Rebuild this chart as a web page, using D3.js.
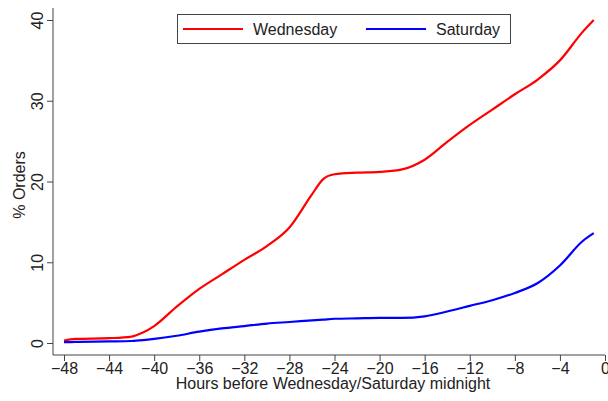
<!DOCTYPE html>
<html>
<head>
<meta charset="utf-8">
<script src="https://cdn.jsdelivr.net/npm/d3@7"></script>
<style>
  body { margin: 0; background: #fff; }
  text { font-family: "Liberation Sans", Arial, sans-serif; fill: #222; }
</style>
</head>
<body>
<div id="wrapper"></div>
<script>
// data
const hours = [-48, -47, -44, -42, -41, -40, -38, -36, -34, -32, -30, -28, -26, -25, -24, -22, -20, -18, -16, -14, -12, -10, -8, -6, -4, -2, -1]
const wednesday = [0.3, 0.5, 0.6, 0.8, 1.3, 2.1, 4.5, 6.7, 8.5, 10.3, 12.0, 14.3, 18.4, 20.3, 20.9, 21.1, 21.2, 21.5, 22.7, 24.9, 27.0, 28.9, 30.8, 32.6, 35.0, 38.5, 40.0]
const saturday = [0.1, 0.15, 0.2, 0.25, 0.35, 0.5, 0.9, 1.4, 1.8, 2.1, 2.4, 2.6, 2.8, 2.9, 3.0, 3.05, 3.1, 3.1, 3.3, 3.9, 4.6, 5.3, 6.2, 7.4, 9.6, 12.6, 13.6]
const xTicks = [-48, -44, -40, -36, -32, -28, -24, -20, -16, -12, -8, -4, 0]
const yTicks = [0, 10, 20, 30, 40]
const seriesNames = ["Wednesday", "Saturday"]
const seriesColors = ["#ff0000", "#0000ff"]

const dimensions = {
  width: 608,
  height: 401,
  margin: { top: 8, right: 3, bottom: 46, left: 53 },
}
dimensions.boundedWidth = dimensions.width - dimensions.margin.left - dimensions.margin.right
dimensions.boundedHeight = dimensions.height - dimensions.margin.top - dimensions.margin.bottom

const wrapper = d3.select("#wrapper")
  .append("svg")
    .attr("width", dimensions.width)
    .attr("height", dimensions.height)

const bounds = wrapper.append("g")
  .attr("transform", `translate(${dimensions.margin.left},${dimensions.margin.top})`)

// scales
const xScale = d3.scaleLinear()
  .domain([-48, 0])
  .range([64 - dimensions.margin.left, 605 - dimensions.margin.left])

const yScale = d3.scaleLinear()
  .domain([0, 40])
  .range([343 - dimensions.margin.top, 20 - dimensions.margin.top])

// lines
const lineGenerator = d3.line()
  .x((d, i) => xScale(hours[i]))
  .y(d => yScale(d))
  .curve(d3.curveMonotoneX)

;[wednesday, saturday].forEach((values, i) => {
  bounds.append("path")
    .datum(values)
    .attr("fill", "none")
    .attr("stroke", seriesColors[i])
    .attr("stroke-width", 2.2)
    .attr("stroke-linejoin", "round")
    .attr("d", lineGenerator)
})

// axes
const xAxis = bounds.append("g")
  .attr("transform", `translate(0,${dimensions.boundedHeight})`)
  .call(d3.axisBottom(xScale).tickValues(xTicks).tickSize(6).tickSizeOuter(0))
xAxis.select(".domain").attr("d", `M0,0H${dimensions.boundedWidth}`)
xAxis.selectAll("line, path").attr("stroke", "#444")
xAxis.selectAll("text")
  .attr("font-size", 16)
  .attr("dy", "0.95em")
  .attr("y", 4)

xAxis.append("text")
  .attr("x", (333 - dimensions.margin.left))
  .attr("y", 34)
  .attr("text-anchor", "middle")
  .attr("font-size", 16)
  .style("fill", "#222")
  .text("Hours before Wednesday/Saturday midnight")

const yAxis = bounds.append("g")
  .call(d3.axisLeft(yScale).tickValues(yTicks).tickSize(6).tickSizeOuter(0))
yAxis.select(".domain").attr("d", `M0,0V${dimensions.boundedHeight}`)
yAxis.selectAll("line, path").attr("stroke", "#444")
yAxis.selectAll(".tick text")
  .attr("font-size", 16)
  .attr("x", 0)
  .attr("dy", 0)
  .attr("text-anchor", "middle")
  .attr("transform", "translate(-10,0) rotate(-90)")

yAxis.append("text")
  .attr("transform", `translate(${24.5 - dimensions.margin.left},${185 - dimensions.margin.top}) rotate(-90)`)
  .attr("text-anchor", "middle")
  .attr("font-size", 16)
  .style("fill", "#222")
  .text("% Orders")

// legend
const legend = wrapper.append("g")
legend.append("rect")
  .attr("x", 177.5)
  .attr("y", 14.5)
  .attr("width", 333)
  .attr("height", 29)
  .attr("fill", "#fff")
  .attr("stroke", "#444")

const legendX = [183, 366]
seriesNames.forEach((name, i) => {
  legend.append("line")
    .attr("x1", legendX[i])
    .attr("x2", legendX[i] + 60)
    .attr("y1", 29)
    .attr("y2", 29)
    .attr("stroke", seriesColors[i])
    .attr("stroke-width", 2)
  legend.append("text")
    .attr("x", legendX[i] + 70)
    .attr("y", 35)
    .attr("font-size", 16)
    .text(name)
})
</script>
</body>
</html>
